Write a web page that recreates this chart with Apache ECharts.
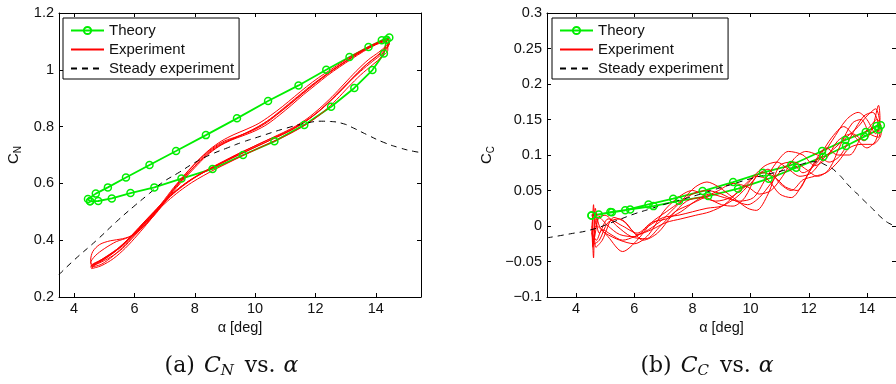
<!DOCTYPE html>
<html><head><meta charset="utf-8">
<script src="https://cdn.jsdelivr.net/npm/echarts@6/dist/echarts.min.js"></script>
<style>html,body{margin:0;padding:0;background:#fff}#c{width:896px;height:384px}</style>
</head><body><div id="c"></div>
<script>
// ---------- data ----------
const xTickValues = [4, 6, 8, 10, 12, 14];
const legendNames = ['Theory', 'Experiment', 'Steady experiment'];

// (a) C_N
const cnTheory = [[4.53,0.537],[4.46,0.545],[4.72,0.564],[5.12,0.586],[5.72,0.621],[6.50,0.665],[7.38,0.714],[8.37,0.770],[9.40,0.829],[10.43,0.890],[11.44,0.945],[12.36,1.000],[13.13,1.045],[13.76,1.080],[14.20,1.104],[14.45,1.114],[14.36,1.106],[14.27,1.057],[13.89,0.999],[13.29,0.936],[12.52,0.870],[11.63,0.806],[10.64,0.748],[9.60,0.700],[8.59,0.651],[7.56,0.617],[6.66,0.586],[5.87,0.566],[5.25,0.547],[4.80,0.538],[4.53,0.537]];
const cnSteady = [[3.5,0.279],[4.0,0.33],[4.77,0.402],[5.4,0.465],[5.98,0.519],[6.5,0.565],[6.9,0.601],[7.5,0.64],[7.98,0.672],[8.5,0.70],[9.08,0.725],[9.6,0.746],[10.18,0.766],[10.95,0.792],[11.74,0.813],[12.2,0.819],[12.5,0.818],[12.93,0.81],[13.26,0.795],[13.70,0.772],[14.25,0.745],[14.8,0.725],[15.25,0.713],[15.5,0.709]];
const cnCycle1 = [[4.55,0.31],[4.8,0.318],[5.2,0.34],[5.6,0.37],[6.0,0.415],[6.4,0.46],[6.8,0.51],[7.2,0.565],[7.6,0.615],[8.0,0.66],[8.4,0.705],[8.8,0.735],[9.2,0.755],[9.6,0.772],[10.0,0.79],[10.4,0.815],[10.8,0.848],[11.2,0.882],[11.6,0.918],[12.0,0.952],[12.4,0.985],[12.8,1.015],[13.2,1.042],[13.6,1.068],[14.0,1.09],[14.3,1.104],[14.45,1.1],[14.4,1.08],[14.2,1.055],[13.9,1.03],[13.5,0.995],[13.1,0.955],[12.7,0.912],[12.3,0.872],[11.9,0.836],[11.5,0.806],[11.1,0.782],[10.7,0.762],[10.3,0.742],[9.9,0.722],[9.5,0.702],[9.1,0.682],[8.7,0.661],[8.3,0.64],[7.9,0.615],[7.5,0.585],[7.1,0.548],[6.7,0.505],[6.3,0.46],[5.9,0.415],[5.5,0.375],[5.1,0.345],[4.8,0.325],[4.6,0.315],[4.55,0.32]];
const cnCycle2 = [[4.55,0.32],[4.7,0.345],[5.0,0.37],[5.4,0.395],[5.8,0.41],[6.2,0.44],[6.6,0.485],[7.0,0.54],[7.4,0.595],[7.8,0.645],[8.2,0.69],[8.6,0.725],[9.0,0.75],[9.4,0.765],[9.8,0.782],[10.2,0.805],[10.6,0.835],[11.0,0.87],[11.4,0.905],[11.8,0.94],[12.2,0.972],[12.6,1.002],[13.0,1.03],[13.4,1.058],[13.8,1.082],[14.1,1.098],[14.4,1.108],[14.42,1.09],[14.25,1.065],[13.95,1.04],[13.6,1.01],[13.2,0.968],[12.8,0.925],[12.4,0.882],[12.0,0.845],[11.6,0.815],[11.2,0.79],[10.8,0.77],[10.4,0.752],[10.0,0.732],[9.6,0.712],[9.2,0.69],[8.8,0.668],[8.4,0.646],[8.0,0.62],[7.6,0.59],[7.2,0.555],[6.8,0.512],[6.4,0.468],[6.0,0.422],[5.6,0.38],[5.2,0.35],[4.9,0.33],[4.65,0.318],[4.55,0.305]];
const cnCycle3 = [[4.55,0.305],[4.9,0.315],[5.3,0.345],[5.7,0.385],[6.1,0.43],[6.5,0.478],[6.9,0.53],[7.3,0.585],[7.7,0.635],[8.1,0.68],[8.5,0.72],[8.9,0.75],[9.3,0.772],[9.7,0.79],[10.1,0.81],[10.5,0.838],[10.9,0.87],[11.3,0.905],[11.7,0.94],[12.1,0.972],[12.5,1.0],[12.9,1.028],[13.3,1.055],[13.7,1.078],[14.05,1.095],[14.35,1.1],[14.4,1.07],[14.2,1.045],[13.9,1.018],[13.5,0.982],[13.1,0.94],[12.7,0.895],[12.3,0.855],[11.9,0.822],[11.5,0.795],[11.1,0.772],[10.7,0.752],[10.3,0.733],[9.9,0.713],[9.5,0.693],[9.1,0.672],[8.7,0.651],[8.3,0.628],[7.9,0.603],[7.5,0.573],[7.1,0.538],[6.7,0.498],[6.3,0.455],[5.9,0.412],[5.5,0.372],[5.1,0.34],[4.8,0.32],[4.6,0.308],[4.55,0.33]];
const cnCycle4 = [[4.55,0.33],[4.62,0.36],[4.85,0.385],[5.2,0.398],[5.6,0.405],[6.0,0.42],[6.4,0.458],[6.8,0.505],[7.2,0.56],[7.6,0.61],[8.0,0.655],[8.4,0.698],[8.8,0.73],[9.2,0.752],[9.6,0.768],[10.0,0.785],[10.4,0.808],[10.8,0.84],[11.2,0.875],[11.6,0.912],[12.0,0.946],[12.4,0.98],[12.8,1.01],[13.2,1.038],[13.6,1.065],[14.0,1.088],[14.3,1.1],[14.45,1.105],[14.45,1.09],[14.3,1.075],[14.05,1.05],[13.7,1.02],[13.3,0.978],[12.9,0.932],[12.5,0.89],[12.1,0.852],[11.7,0.82],[11.3,0.794],[10.9,0.772],[10.5,0.752],[10.1,0.733],[9.7,0.713],[9.3,0.693],[8.9,0.672],[8.5,0.65],[8.1,0.627],[7.7,0.6],[7.3,0.566],[6.9,0.526],[6.5,0.482],[6.1,0.436],[5.7,0.392],[5.3,0.355],[4.95,0.33],[4.7,0.316],[4.58,0.3]];
const cnCycle5 = [[4.58,0.3],[4.9,0.31],[5.3,0.335],[5.7,0.372],[6.1,0.418],[6.5,0.468],[6.9,0.522],[7.3,0.578],[7.7,0.628],[8.1,0.672],[8.5,0.71],[8.9,0.738],[9.3,0.758],[9.7,0.778],[10.1,0.8],[10.5,0.826],[10.9,0.858],[11.3,0.893],[11.7,0.928],[12.1,0.962],[12.5,0.993],[12.9,1.022],[13.3,1.05],[13.7,1.075],[14.1,1.095],[14.4,1.108],[14.45,1.1],[14.35,1.085],[14.1,1.062],[13.75,1.035],[13.35,0.995],[12.95,0.95],[12.55,0.905],[12.15,0.865],[11.75,0.83],[11.35,0.802],[10.95,0.78],[10.55,0.76],[10.15,0.74],[9.75,0.72],[9.35,0.7],[8.95,0.678],[8.55,0.656],[8.15,0.632],[7.75,0.605],[7.35,0.572],[6.95,0.534],[6.55,0.49],[6.15,0.445],[5.75,0.4],[5.35,0.362],[4.95,0.334],[4.7,0.318],[4.58,0.31]];

// (b) C_C
const ccTheory = [[4.53,0.0148],[5.23,0.0193],[5.69,0.0222],[6.49,0.0304],[7.34,0.0384],[8.35,0.0492],[9.40,0.0619],[10.42,0.0751],[11.40,0.0859],[12.46,0.1056],[13.26,0.1212],[13.96,0.1325],[14.33,0.141],[14.48,0.142],[14.40,0.136],[13.91,0.1259],[13.28,0.1127],[12.50,0.0976],[11.57,0.0821],[10.62,0.0666],[9.57,0.0525],[8.54,0.0421],[7.54,0.0355],[6.66,0.028],[5.86,0.0233],[5.18,0.0196],[4.78,0.0162],[4.53,0.0148]];
const ccSteady = [[3.0,-0.0167],[3.8,-0.011],[4.55,-0.0049],[5.35,0.0069],[6.0,0.017],[6.49,0.0233],[7.0,0.03],[7.63,0.0374],[8.2,0.044],[8.77,0.0515],[9.3,0.058],[9.91,0.0656],[10.5,0.072],[11.05,0.0774],[11.5,0.083],[11.74,0.0868],[12.15,0.0905],[12.65,0.0845],[13.0,0.074],[13.35,0.058],[13.6,0.048],[13.91,0.0354],[14.2,0.024],[14.48,0.0125],[14.75,0.004],[15.0,0.0]];
const ccCycle1 = [[4.55,0.0],[4.6,-0.045],[4.66,0.025],[4.8,0.0],[5.1,-0.015],[5.6,-0.036],[6.1,-0.02],[6.6,0.005],[7.1,0.02],[7.6,0.035],[8.1,0.055],[8.5,0.062],[8.9,0.055],[9.4,0.04],[9.9,0.025],[10.2,0.022],[10.6,0.045],[11.0,0.085],[11.4,0.09],[11.8,0.075],[12.3,0.09],[12.8,0.12],[13.3,0.15],[13.7,0.16],[14.0,0.15],[14.3,0.13],[14.45,0.15],[14.4,0.17],[14.2,0.14],[13.9,0.12],[13.5,0.13],[13.0,0.12],[12.6,0.095],[12.2,0.085],[11.8,0.1],[11.3,0.105],[10.9,0.09],[10.5,0.065],[10.1,0.04],[9.6,0.035],[9.1,0.04],[8.6,0.045],[8.1,0.035],[7.6,0.02],[7.1,0.01],[6.6,0.005],[6.1,-0.01],[5.6,0.0],[5.1,0.01],[4.8,-0.01],[4.62,0.02],[4.55,0.0]];
const ccCycle2 = [[4.55,0.0],[4.58,-0.03],[4.7,0.01],[5.0,0.015],[5.4,0.0],[5.9,-0.015],[6.4,-0.018],[6.9,0.0],[7.4,0.02],[7.9,0.03],[8.4,0.04],[8.9,0.05],[9.4,0.06],[9.9,0.055],[10.3,0.045],[10.7,0.05],[11.1,0.07],[11.5,0.095],[11.9,0.105],[12.3,0.1],[12.7,0.09],[13.1,0.1],[13.5,0.13],[13.9,0.155],[14.2,0.16],[14.4,0.14],[14.3,0.12],[14.0,0.11],[13.6,0.125],[13.2,0.14],[12.8,0.125],[12.4,0.1],[12.0,0.075],[11.6,0.05],[11.2,0.055],[10.8,0.07],[10.4,0.075],[10.0,0.06],[9.5,0.04],[9.0,0.028],[8.5,0.025],[8.0,0.02],[7.5,0.015],[7.0,0.012],[6.5,0.0],[6.0,-0.015],[5.5,-0.012],[5.1,0.0],[4.8,0.012],[4.6,-0.02],[4.55,-0.01]];
const ccCycle3 = [[4.55,-0.01],[4.62,-0.025],[4.8,-0.02],[5.1,0.005],[5.5,0.01],[5.9,-0.005],[6.3,-0.02],[6.8,-0.01],[7.3,0.015],[7.8,0.035],[8.3,0.04],[8.8,0.035],[9.3,0.04],[9.8,0.055],[10.2,0.07],[10.6,0.065],[11.0,0.045],[11.4,0.04],[11.8,0.06],[12.2,0.09],[12.6,0.11],[13.0,0.1],[13.4,0.1],[13.8,0.125],[14.1,0.14],[14.35,0.15],[14.5,0.135],[14.45,0.125],[14.2,0.115],[13.8,0.115],[13.4,0.11],[13.0,0.09],[12.6,0.075],[12.2,0.07],[11.8,0.065],[11.4,0.05],[11.0,0.06],[10.6,0.08],[10.2,0.07],[9.8,0.04],[9.4,0.028],[9.0,0.03],[8.5,0.04],[8.0,0.05],[7.5,0.04],[7.0,0.02],[6.5,-0.012],[6.0,-0.025],[5.5,-0.02],[5.0,-0.01],[4.7,0.0],[4.55,-0.01]];
const ccCycle4 = [[4.55,-0.01],[4.6,0.03],[4.68,-0.03],[4.9,-0.02],[5.3,0.012],[5.7,0.005],[6.1,-0.012],[6.6,-0.005],[7.1,0.005],[7.6,0.01],[8.1,0.015],[8.6,0.02],[9.1,0.03],[9.6,0.05],[10.1,0.07],[10.5,0.085],[10.9,0.09],[11.3,0.08],[11.7,0.07],[12.1,0.075],[12.5,0.095],[12.9,0.11],[13.3,0.125],[13.7,0.14],[14.0,0.155],[14.3,0.165],[14.45,0.14],[14.4,0.125],[14.1,0.13],[13.8,0.15],[13.5,0.145],[13.1,0.115],[12.7,0.08],[12.3,0.07],[11.9,0.08],[11.5,0.09],[11.1,0.08],[10.7,0.06],[10.3,0.04],[9.9,0.03],[9.5,0.035],[9.0,0.045],[8.5,0.05],[8.0,0.045],[7.5,0.03],[7.0,0.01],[6.5,-0.005],[6.0,-0.015],[5.6,-0.02],[5.2,-0.012],[4.9,-0.005],[4.7,-0.02],[4.55,-0.01]];

// ---------- options ----------
const FONT = "'Liberation Sans', Arial, Helvetica, sans-serif";
const SERIF = "'DejaVu Serif', 'Liberation Serif', serif";
const GREEN = '#00ee00', RED = '#ff0000', BLACK = '#000000';
const fmt = v => String(Math.round(v * 100) / 100).replace('-', '\u2212');

function xAx(g, min, max, pos, labels) {
  return {
    type: 'value', gridIndex: g, min: min, max: max, position: pos,
    axisLine: {show: true, onZero: false, lineStyle: {color: BLACK, width: 1}},
    axisTick: {show: true, inside: true, length: 4, customValues: xTickValues, lineStyle: {color: BLACK, width: 1}},
    axisLabel: labels ? {show: true, customValues: xTickValues, color: '#111', fontSize: 14.5, fontFamily: FONT, margin: 4} : {show: false},
    splitLine: {show: false},
    name: labels ? '\u03b1 [deg]' : '',
    nameLocation: 'middle', nameGap: 17,
    nameTextStyle: {color: '#111', fontSize: 14.5, fontFamily: FONT}
  };
}
function yAx(g, min, max, interval, pos, labels, sub, gap) {
  return {
    type: 'value', gridIndex: g, min: min, max: max, interval: interval, position: pos,
    axisLine: {show: true, onZero: false, lineStyle: {color: BLACK, width: 1}},
    axisTick: {show: true, inside: true, length: 4, lineStyle: {color: BLACK, width: 1}},
    axisLabel: labels ? {show: true, formatter: fmt, color: '#111', fontSize: 14.5, fontFamily: FONT, margin: 5} : {show: false},
    splitLine: {show: false},
    name: labels ? '{c|C}{n|' + sub + '}' : '',
    nameLocation: 'middle', nameGap: gap,
    nameTextStyle: {color: '#111', fontFamily: FONT, rich: {
      c: {fontSize: 15, fontFamily: FONT, color: '#111', lineHeight: 18},
      n: {fontSize: 10, fontFamily: FONT, color: '#111', lineHeight: 12, verticalAlign: 'bottom'}
    }}
  };
}
function legend(left) {
  return {
    left: left, top: 18, orient: 'vertical', selectedMode: false,
    data: [
      {name: 'Theory'},
      {name: 'Experiment', itemStyle: {opacity: 0}},
      {name: 'Steady experiment', itemStyle: {opacity: 0}}
    ],
    itemWidth: 33, itemHeight: 9, itemGap: 4,
    padding: [5, 5, 3, 7],
    borderColor: BLACK, borderWidth: 1, backgroundColor: '#fff',
    textStyle: {fontSize: 15, fontFamily: FONT, color: '#111'}
  };
}
function theory(data, g) {
  return {type: 'line', name: legendNames[0], xAxisIndex: g * 2, yAxisIndex: g * 2, data: data,
    symbol: 'circle', symbolSize: 7, showAllSymbol: true,
    lineStyle: {color: GREEN, width: 1.8}, color: GREEN,
    itemStyle: {color: 'rgba(255,255,255,0)', borderColor: GREEN, borderWidth: 1.5}};
}
function experiment(data, g) {
  return {type: 'line', name: legendNames[1], xAxisIndex: g * 2, yAxisIndex: g * 2, data: data,
    symbol: 'none', smooth: 0.3, color: RED, lineStyle: {color: RED, width: 1}};
}
function steady(data, g) {
  return {type: 'line', name: legendNames[2], xAxisIndex: g * 2, yAxisIndex: g * 2, data: data,
    symbol: 'none', smooth: true, color: BLACK, lineStyle: {color: BLACK, width: 1, type: [6, 5]}};
}
function caption(x, letter, sub) {
  return {type: 'text', x: x, y: 366, style: {
    text: '{r|(' + letter + ')}{g1| }{i|C}{s|' + sub + '}{g2| }{r|vs.}{g3| }{i|\u03b1}',
    align: 'center', verticalAlign: 'middle', fill: '#111',
    rich: {
      r: {fontFamily: SERIF, fontSize: 22, lineHeight: 26, fill: '#111'},
      i: {fontFamily: SERIF, fontSize: 22, fontStyle: 'italic', lineHeight: 26, fill: '#111'},
      s: {fontFamily: SERIF, fontSize: 15, fontStyle: 'italic', lineHeight: 16, verticalAlign: 'bottom', fill: '#111'},
      g1: {width: 9, fontSize: 22, lineHeight: 26}, g2: {width: 11, fontSize: 22, lineHeight: 26}, g3: {width: 8, fontSize: 22, lineHeight: 26}
    }}};
}

const chart = echarts.init(document.getElementById('c'), null, {renderer: 'canvas'});
chart.setOption({
  animation: false,
  backgroundColor: '#fff',
  grid: [
    {left: 59, top: 13, width: 362, height: 284},
    {left: 547, top: 13, width: 350, height: 284}
  ],
  xAxis: [xAx(0, 3.5, 15.5, 'bottom', true), xAx(0, 3.5, 15.5, 'top', false),
          xAx(1, 3, 15, 'bottom', true), xAx(1, 3, 15, 'top', false)],
  yAxis: [yAx(0, 0.2, 1.2, 0.2, 'left', true, 'N', 36), yAx(0, 0.2, 1.2, 0.2, 'right', false, '', 0),
          yAx(1, -0.1, 0.3, 0.05, 'left', true, 'C', 51), yAx(1, -0.1, 0.3, 0.05, 'right', false, '', 0)],
  legend: [legend(63), legend(552)],
  series: [
    theory(cnTheory, 0),
    experiment([].concat(cnCycle1, cnCycle2, cnCycle3, cnCycle4, cnCycle5), 0),
    steady(cnSteady, 0),
    theory(ccTheory, 1),
    experiment([].concat(ccCycle1, ccCycle2, ccCycle3, ccCycle4), 1),
    steady(ccSteady, 1)
  ],
  graphic: [caption(231.5, 'a', 'N'), caption(707, 'b', 'C')]
});
</script></body></html>
